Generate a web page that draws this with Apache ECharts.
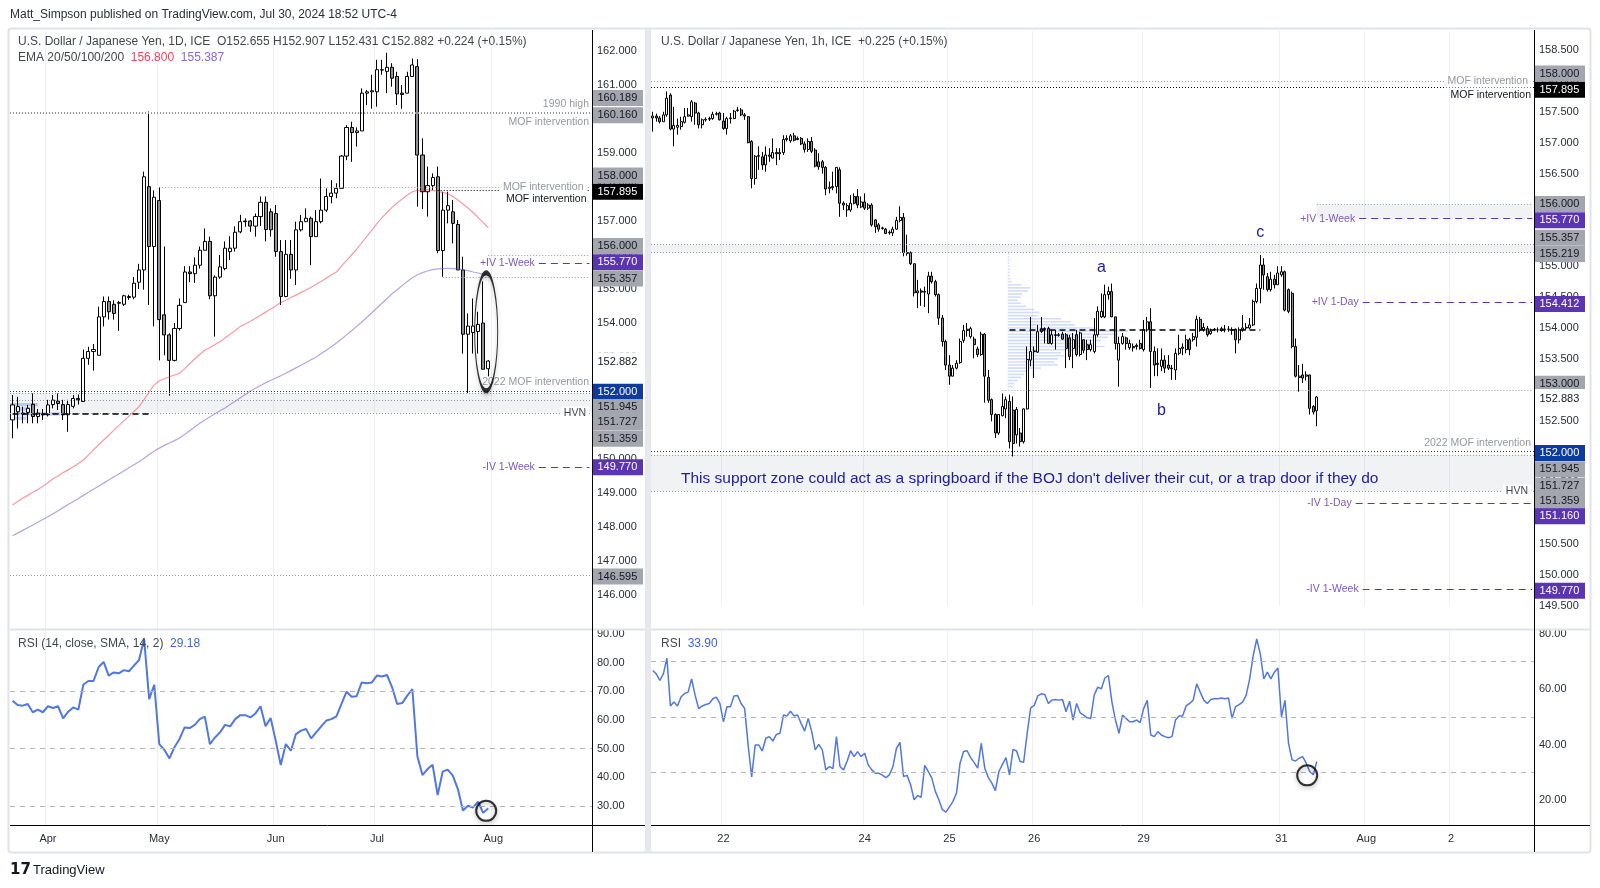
<!DOCTYPE html>
<html><head><meta charset="utf-8">
<script src="https://cdn.jsdelivr.net/npm/echarts@6/dist/echarts.min.js"></script>
<style>html,body{margin:0;padding:0;background:#fff}#c{width:1600px;height:888px}</style>
</head><body><div id="c"></div><script>
// ---------------- LEFT: USDJPY daily ----------------
const leftTickIdx = [7, 29, 52, 72, 95];
const leftTickLbl = ['Apr', 'May', 'Jun', 'Jul', 'Aug'];
const leftCatCount = 115;
const leftPriceTicks = [146,147,148,149,150,151,152,153,154,155,156,157,158,159,160,161,162];
const leftRsiTicks = [30,40,50,60,70,80,90];

const dO = [151.15,151.39,151.35,151.37,151.61,151.25,151.33,151.30,151.60,151.70,
151.60,151.30,151.55,151.78,151.69,152.96,153.16,153.05,154.18,154.63,
154.55,154.58,154.55,154.75,154.76,155.20,155.56,158.01,156.25,157.60,
154.24,153.65,152.90,153.84,154.60,155.50,155.45,155.70,156.14,156.40,
154.80,155.35,155.60,156.10,156.20,156.68,156.98,157.00,156.85,157.13,
157.55,157.27,157.22,156.10,154.78,156.02,155.56,156.74,156.98,157.08,
156.54,156.98,157.32,157.72,157.82,157.96,158.91,159.75,159.60,159.65,
160.76,160.80,160.80,161.44,161.40,161.52,161.25,160.76,160.76,161.25,
161.54,158.94,157.86,158.04,158.30,156.13,157.32,157.27,156.90,155.56,
153.67,153.72,153.75,154.00,152.655];
const dC = [151.59,151.54,151.32,151.49,151.25,151.35,151.30,151.59,151.73,151.63,
151.30,151.60,151.78,151.74,152.96,153.16,153.22,154.18,154.63,154.33,
154.28,154.60,154.80,154.78,155.17,155.56,158.30,156.25,157.70,154.10,
153.65,152.90,153.84,154.52,155.50,155.45,155.70,156.14,156.40,154.80,
155.35,155.65,156.20,156.20,156.67,156.98,157.00,156.85,157.13,157.55,
156.75,156.74,156.10,154.78,156.02,155.56,156.74,156.98,157.08,156.54,
156.98,157.32,157.72,157.82,157.96,158.91,159.75,159.60,159.65,160.76,
160.80,160.83,161.45,161.45,161.52,161.20,160.74,160.72,161.25,161.59,
158.94,157.86,158.04,158.28,156.13,157.32,157.45,156.93,155.56,153.67,
153.91,153.91,153.96,152.64,152.882];
const dL = [150.61,150.90,151.05,151.05,151.05,151.05,151.15,151.25,151.49,151.44,
151.15,150.80,151.49,151.60,151.69,152.77,152.60,153.05,153.90,154.10,
154.10,153.77,154.50,154.68,154.70,155.00,154.98,154.53,153.90,152.90,
153.05,151.86,152.87,153.78,154.60,155.20,155.18,155.60,156.14,154.70,
153.60,155.30,155.55,155.85,156.10,156.64,156.83,156.68,156.54,156.85,
156.40,156.54,155.95,154.53,154.76,155.30,155.12,156.69,156.98,155.70,
156.54,156.93,157.27,157.52,157.67,157.96,158.79,158.74,159.19,159.65,
160.41,160.30,160.36,161.30,160.76,160.95,160.41,160.30,160.76,161.25,
157.42,157.35,157.13,157.91,156.05,155.36,156.93,156.34,155.56,153.10,
151.94,153.10,153.10,152.64,152.431];
const dH = [151.88,151.83,151.54,151.59,151.93,151.47,151.47,151.74,151.88,151.93,
151.74,151.74,151.88,151.90,153.22,153.30,153.38,154.48,154.78,154.78,
154.67,154.65,154.83,154.83,155.35,155.74,158.45,160.22,157.90,158.00,
156.25,153.70,154.00,154.72,155.67,155.67,155.93,156.25,156.78,156.54,
155.40,156.00,156.40,156.55,156.84,157.18,157.08,157.03,157.22,157.72,
157.72,157.37,157.47,156.44,156.44,156.44,156.98,157.18,157.37,157.13,
157.32,158.25,157.96,158.20,158.11,158.94,159.82,159.92,159.75,160.90,
160.85,161.30,161.74,161.74,161.95,161.64,161.39,161.00,161.39,161.78,
161.76,159.43,158.60,158.40,158.60,157.86,157.86,157.62,157.03,155.95,
154.28,154.72,154.33,155.22,152.907];
const emaRed = [148.65,148.75,148.85,148.93,149.02,149.10,149.20,149.30,149.42,149.50,
149.60,149.68,149.77,149.87,149.97,150.12,150.27,150.42,150.56,150.70,
150.84,150.98,151.12,151.26,151.40,151.54,151.75,151.97,152.18,152.30,
152.36,152.42,152.47,152.52,152.65,152.80,152.94,153.08,153.20,153.28,
153.37,153.45,153.56,153.67,153.78,153.90,153.97,154.05,154.14,154.23,
154.32,154.41,154.50,154.60,154.67,154.75,154.82,154.90,154.97,155.05,
155.14,155.23,155.32,155.41,155.50,155.67,155.84,156.00,156.17,156.36,
156.55,156.73,156.92,157.10,157.25,157.40,157.53,157.65,157.76,157.86,
157.90,157.90,157.92,157.90,157.87,157.84,157.80,157.72,157.62,157.50,
157.38,157.25,157.10,156.95,156.80];
const emaPurple = [147.74,147.82,147.90,147.98,148.06,148.14,148.22,148.30,148.39,148.48,
148.57,148.66,148.75,148.84,148.93,149.02,149.11,149.20,149.29,149.38,
149.47,149.56,149.65,149.74,149.83,149.92,150.02,150.13,150.23,150.32,
150.40,150.47,150.54,150.62,150.72,150.83,150.94,151.05,151.15,151.24,
151.33,151.42,151.50,151.60,151.70,151.80,151.90,152.00,152.08,152.16,
152.24,152.31,152.38,152.45,152.52,152.60,152.68,152.76,152.84,152.92,
153.00,153.10,153.20,153.30,153.41,153.53,153.65,153.77,153.90,154.03,
154.16,154.30,154.44,154.58,154.72,154.86,154.98,155.10,155.22,155.33,
155.42,155.48,155.53,155.57,155.59,155.60,155.61,155.60,155.59,155.57,
155.54,155.50,155.47,155.43,155.39];
const leftRsi = [66.7,65.2,65.0,65.6,62.7,63.6,62.7,64.8,64.2,64.8,
60.6,62.9,64.4,63.6,72.4,73.6,73.6,78.4,80.3,75.5,
76.6,76.3,77.4,77.0,79.0,80.9,88.3,67.3,72.3,51.6,
49.6,46.6,50.5,53.4,57.4,57.2,58.3,60.3,61.2,51.6,
53.9,55.7,58.3,57.8,60.3,61.7,61.7,60.9,62.3,64.8,
57.8,60.7,52.8,44.3,51.6,49.3,55.1,56.3,56.9,53.6,
55.7,57.8,59.8,60.3,61.3,65.6,69.9,68.1,68.3,73.1,
72.8,73.1,75.5,75.2,75.7,71.4,65.6,65.9,68.5,70.8,
47.3,40.8,42.9,44.4,33.8,42.0,42.7,40.6,35.9,28.4,
30.1,29.5,31.5,27.6,29.18];
const leftVpPrice = [151.60, 151.47, 151.33, 151.20];
const leftVpLen = [5.5, 4.0, 10.0, 3.3];

// ---------------- RIGHT: USDJPY 1h ----------------
const rightTickIdx = [20, 60, 84, 108, 139, 178, 202, 226];
const rightTickLbl = ['22', '24', '25', '26', '29', '31', 'Aug', '2'];
const rightCatCount = 250;
const rightPriceTicks = [149.5,150,150.5,151,151.5,152,152.5,153,153.5,154,154.5,155,155.5,156,156.5,157,157.5,158,158.5];
const rightRsiTicks = [20,40,60,80];

const rO = [157.40,157.43,157.40,157.34,157.45,157.77,157.22,157.25,157.26,157.33,
157.43,157.42,157.64,157.48,157.29,157.37,157.38,157.39,157.46,157.48,
157.35,157.23,157.39,157.39,157.52,157.53,157.45,157.42,157.02,156.42,
156.78,156.77,156.64,156.80,156.75,156.84,156.82,156.84,157.05,157.03,
157.11,157.05,157.07,156.98,156.89,157.02,156.88,156.69,156.69,156.60,
156.26,156.27,156.29,156.56,156.02,155.91,155.91,156.13,156.13,155.96,
156.04,155.94,155.99,155.75,155.67,155.62,155.60,155.55,155.54,155.60,
155.74,155.79,155.22,155.22,155.04,154.57,154.60,154.58,154.55,154.84,
154.75,154.54,154.16,153.78,153.40,153.22,153.35,153.44,153.80,153.96,
153.86,153.82,153.66,153.57,153.90,153.20,152.84,152.60,152.30,152.58,
152.69,152.81,152.67,152.27,152.30,152.16,152.69,153.48,153.62,153.61,
153.94,153.99,153.99,153.75,153.89,153.88,153.90,153.89,153.84,153.67,
153.89,153.57,153.81,153.73,153.65,153.62,153.89,154.18,154.18,154.54,
154.59,154.18,153.48,153.75,153.84,153.68,153.70,153.72,153.75,153.65,
153.97,154.10,153.62,153.43,153.38,153.48,153.40,153.35,153.32,153.59,
153.67,153.65,153.81,153.81,153.85,154.14,153.97,153.99,153.91,153.97,
153.97,153.96,153.98,153.98,153.97,153.98,153.81,153.97,154.00,154.00,
154.05,154.43,154.64,155.02,154.83,154.62,154.79,154.70,154.86,154.91,
154.62,154.56,153.70,153.20,153.24,153.22,153.24,152.73,152.66];
const rC = [157.43,157.40,157.34,157.45,157.72,157.22,157.28,157.28,157.34,157.42,
157.45,157.66,157.48,157.29,157.37,157.38,157.39,157.46,157.47,157.37,
157.23,157.39,157.40,157.51,157.53,157.45,157.43,157.00,156.42,156.78,
156.79,156.64,156.80,156.78,156.84,156.82,156.84,157.05,157.07,157.11,
157.04,157.07,156.98,156.89,157.02,156.86,156.62,156.61,156.60,156.25,
156.28,156.29,156.60,156.02,155.99,155.98,156.02,156.02,155.99,156.04,
155.94,155.99,155.67,155.64,155.60,155.61,155.53,155.54,155.60,155.74,
155.79,155.22,155.21,155.04,154.57,154.60,154.58,154.59,154.84,154.75,
154.54,154.16,153.78,153.40,153.22,153.35,153.43,153.78,153.96,153.98,
153.99,153.73,153.57,153.90,153.22,152.83,152.60,152.30,152.60,152.73,
152.84,152.16,152.13,152.68,152.16,152.69,153.49,153.62,153.63,153.94,
153.99,153.98,153.75,153.89,153.88,153.89,153.82,153.67,153.54,153.81,
153.57,153.92,153.64,153.65,153.73,153.89,154.27,154.27,154.54,154.59,
154.18,153.75,153.75,153.86,153.75,153.75,153.68,153.70,153.67,153.97,
154.10,153.62,153.40,153.41,153.48,153.35,153.35,153.34,153.59,153.67,
153.69,153.81,153.65,153.86,154.14,153.97,154.01,153.89,153.95,153.98,
153.97,153.99,153.98,153.98,153.97,153.81,153.97,154.00,154.01,154.05,
154.43,154.64,155.02,154.86,154.62,154.79,154.70,154.89,154.91,154.29,
154.27,153.70,153.22,153.22,153.19,153.24,152.70,152.64,152.883];
const rL = [157.18,157.34,157.31,157.34,157.42,157.20,156.94,157.13,157.21,157.31,
157.42,157.34,157.29,157.23,157.23,157.34,157.35,157.37,157.44,157.36,
157.21,157.13,157.31,157.38,157.50,157.43,157.37,156.99,156.26,156.32,
156.56,156.56,156.53,156.69,156.75,156.64,156.72,156.80,157.02,157.00,
157.02,157.04,156.96,156.84,156.85,156.83,156.60,156.56,156.50,156.15,
156.18,156.23,156.18,155.80,155.91,155.80,155.88,156.00,155.94,155.94,
155.91,155.91,155.64,155.54,155.56,155.59,155.52,155.51,155.49,155.59,
155.71,155.16,155.17,155.02,154.51,154.32,154.36,154.34,154.24,154.72,
154.51,154.05,153.70,153.32,153.08,153.22,153.33,153.42,153.76,153.86,
153.83,153.51,153.53,153.55,152.79,152.79,152.49,152.22,152.27,152.57,
152.54,152.05,151.92,152.13,152.08,152.13,152.68,153.38,153.19,153.60,
153.92,153.75,153.74,153.73,153.65,153.86,153.81,153.35,153.48,153.35,
153.54,153.54,153.59,153.48,153.62,153.59,153.86,154.16,154.16,154.46,
154.18,153.65,153.05,153.73,153.65,153.65,153.62,153.65,153.65,153.62,
153.94,153.03,153.22,153.22,153.30,153.27,153.32,153.16,153.16,153.56,
153.56,153.59,153.56,153.78,153.70,153.94,153.94,153.86,153.89,153.95,
153.93,153.94,153.93,153.94,153.89,153.59,153.75,153.94,153.96,153.98,
154.03,154.40,154.40,154.62,154.59,154.59,154.64,154.70,154.83,154.27,
154.24,153.67,153.20,152.97,153.11,153.15,152.60,152.60,152.41];
const rH = [157.50,157.47,157.43,157.50,157.83,157.80,157.58,157.39,157.42,157.56,
157.56,157.69,157.66,157.50,157.39,157.41,157.42,157.50,157.50,157.50,
157.48,157.42,157.48,157.53,157.58,157.56,157.48,157.43,157.04,156.80,
156.94,156.85,156.94,156.91,157.07,156.91,156.91,157.12,157.12,157.14,
157.16,157.10,157.09,157.02,157.07,157.09,156.91,156.83,156.72,156.62,
156.37,156.53,156.60,156.60,156.05,156.02,156.15,156.18,156.25,156.13,
156.18,156.02,156.02,155.76,155.70,155.64,155.62,155.58,155.64,155.80,
155.97,155.86,155.51,155.24,155.04,154.78,154.64,154.67,154.91,154.91,
154.78,154.56,154.21,153.81,153.56,153.40,153.48,153.83,154.05,154.08,
154.02,153.86,153.70,153.94,153.92,153.32,152.86,152.62,152.60,152.94,
152.89,152.92,152.89,152.72,152.38,152.70,153.70,154.18,153.70,154.05,
154.18,154.01,154.02,153.97,153.97,153.92,153.94,153.92,153.89,153.92,
153.97,153.94,153.81,153.81,153.81,154.16,154.35,154.56,154.70,154.67,
154.72,154.18,153.86,153.92,153.86,153.81,153.75,153.75,153.81,154.13,
154.18,154.32,153.70,153.67,153.67,153.56,153.56,153.40,153.67,153.89,
153.75,153.89,153.84,153.92,154.20,154.18,154.08,154.03,153.99,154.00,
154.01,154.02,154.05,154.03,154.01,153.99,154.01,154.21,154.08,154.16,
154.46,154.72,155.18,155.13,154.89,154.91,154.86,155.00,155.00,154.93,
154.64,154.59,153.83,153.40,153.42,153.30,153.24,152.75,152.90];
const rightRsi = [66.8,65.6,63.2,65.6,71.3,54.0,55.4,54.0,57.2,58.5,
59.0,63.8,57.8,53.0,54.0,54.5,54.9,56.6,57.2,54.9,
48.3,53.7,53.7,57.6,57.8,54.9,53.1,39.9,28.3,39.9,
39.9,37.7,42.3,42.9,41.3,43.7,44.1,50.7,50.4,52.1,
50.4,50.7,47.7,44.9,49.5,44.7,38.1,40.1,38.1,30.9,
32.1,31.3,42.9,32.1,30.9,33.9,37.8,35.7,37.5,35.7,
36.9,32.7,30.9,29.7,29.7,29.0,28.1,29.1,32.1,38.7,
40.8,28.5,28.9,25.5,20.1,21.6,21.0,32.5,30.3,27.9,
23.1,20.1,16.5,15.6,17.5,19.5,22.5,33.3,37.5,37.8,
35.3,33.5,31.5,40.5,31.5,28.1,26.1,23.4,30.3,32.9,
35.3,29.1,38.3,37.7,33.9,33.6,44.1,53.3,54.2,57.6,
58.4,58.1,54.9,56.1,56.3,56.1,56.3,51.9,55.7,48.9,
54.9,51.5,50.7,49.7,49.5,58.0,60.8,60.2,64.1,65.0,
55.4,48.9,44.1,50.7,49.5,48.3,48.3,48.9,48.0,53.1,
56.0,43.5,42.9,44.7,43.5,42.9,42.5,42.9,48.9,50.4,
50.4,54.0,54.9,56.1,62.0,59.0,56.1,54.9,56.3,56.6,
56.6,56.9,56.6,56.9,49.5,53.7,54.5,55.4,57.8,63.8,
72.2,78.2,72.8,63.8,66.2,63.8,66.2,67.7,50.1,56.0,
40.5,34.5,34.1,35.1,35.7,33.3,30.3,29.1,33.9];
const rightVpStart = 101;
const rightVpPrice = [155.20,155.15,155.10,155.05,155.00,154.95,154.90,154.85,154.80,154.75,
154.70,154.65,154.60,154.55,154.50,154.45,154.40,154.35,154.30,154.25,
154.20,154.15,154.10,154.05,154.00,153.95,153.90,153.85,153.80,153.75,
153.70,153.65,153.60,153.55,153.50,153.45,153.40,153.35,153.30,153.25,
153.20,153.15,153.10,153.05];
const rightVpLen = [0.3,0.4,0.5,0.4,0.5,0.6,0.5,0.6,0.8,1.1,
3.8,6.4,5.7,4.2,3.6,2.8,3.8,5.2,7.5,9.0,
8.5,15.1,17.9,18.9,25.5,34.0,31.1,28.3,26.4,24.5,
27.4,18.9,15.1,16.0,14.2,13.2,14.2,9.4,5.7,4.7,
3.8,2.8,1.9,1.4];

// axis boxes
const leftBoxVals  = [160.189,160.160,158.000,157.895,156.000,155.770,155.357,152.882,152.000,151.945,151.727,151.359,149.770,146.595];
const leftBoxKinds = ['gray','gray','gray','black','gray','purple','gray','cur','blue','gray','gray','gray','purple','gray'];
const leftBoxShift = [-14.6,1.7,-11.5,1.2,-9.1,-0.6,1.7,1.2,0.8,14.2,22.1,26,0.5,1.7];
const rightBoxVals  = [158.000,157.895,156.000,155.770,155.357,155.219,154.412,153.000,152.883,152.000,151.945,151.727,151.359,151.160,149.770];
const rightBoxKinds = ['gray','black','gray','purple','gray','gray','purple','gray','cur','blue','gray','gray','gray','purple','purple'];
const rightBoxShift = [-7.4,2.4,-0.4,1.7,-6.4,1.4,1.5,-6.1,2.0,1.4,14.4,17.3,9.8,12.8,1.5];

// ---------------- layout / style ----------------
const FONT = 'Liberation Sans, Arial, sans-serif';
const GRAY = '#9598a1', PURPLE = '#5e35b1', PURPLE_T = '#7e57c2', BLUE = '#1a3a9c';
const AX_TXT = '#2a2e39';
const L = {x: 10, w: 582}, R = {x: 651, w: 883};
const BOXC = {gray: ['#a3a6ae', '#131722'], black: ['#000000', '#ffffff'], purple: ['#5b34b4', '#ffffff'], blue: ['#0f3a9e', '#ffffff'], cur: ['#ffffff', '#131722']};

const leftCats = Array.from({length: leftCatCount}, (_, i) => String(i));
const rightCats = Array.from({length: rightCatCount}, (_, i) => String(i));

function xa(grid, cats, idx, lbl, show) {
  const set = new Set(idx);
  return {type: 'category', gridIndex: grid, data: cats, boundaryGap: true,
    axisLine: {show: false}, axisTick: {show: false},
    axisLabel: {show: show, interval: (i) => set.has(i), color: AX_TXT, fontSize: 11, margin: 8, fontFamily: FONT,
      formatter: (v, i) => { const k = idx.indexOf(i); return k >= 0 ? lbl[k] : ''; }},
    splitLine: {show: true, interval: (i) => set.has(i), lineStyle: {color: '#eef0f4', width: 1}}};
}
function ya(grid, min, max, ticks, dec) {
  return {type: 'value', gridIndex: grid, position: 'right', min: min, max: max, scale: true,
    axisLine: {show: false}, axisTick: {show: false}, splitLine: {show: false},
    axisLabel: {customValues: ticks, formatter: (v) => Number(v).toFixed(dec), color: AX_TXT, fontSize: 11, margin: 5, fontFamily: FONT}};
}
const dotted = (c) => ({color: c, type: [1, 2], width: 1});
const dashed = (c) => ({color: c, type: [7, 5], width: 1});
function full(p, ls, label) { const o = {yAxis: p, lineStyle: ls}; o.label = label || {show: false}; return o; }
function part(p, s, e, ls, label) { return [{coord: [s, p], lineStyle: ls, label: label || {show: false}}, {coord: [e, p]}]; }
const lblEnd = (t, pos, c, bg) => ({show: true, formatter: t, position: pos, color: c, fontSize: 10.5, fontFamily: FONT, distance: 3,
  backgroundColor: bg ? '#ffffff' : 'transparent', padding: bg ? [1, 3] : 0});
const lblStart = (t) => ({show: true, formatter: t, position: 'start', color: PURPLE_T, fontSize: 10.5, fontFamily: FONT, distance: 4});

const LE = leftCatCount - 1, RE = rightCatCount - 1;
const leftLines = [
  full(160.189, dotted(GRAY), lblEnd('1990 high', 'insideEndTop', GRAY)),
  full(160.160, dotted(GRAY), lblEnd('MOF intervention', 'insideEndBottom', GRAY)),
  part(158.0, 29, LE, dotted(GRAY), lblEnd('MOF intervention', 'insideEnd', GRAY, true)),
  part(157.895, 84, LE, dotted('#000'), lblEnd('MOF intervention', 'insideEndBottom', '#131722')),
  part(156.0, 94, LE, dotted(GRAY)),
  part(155.77, 104, LE, dashed(PURPLE), lblStart('+IV 1-Week')),
  part(155.357, 85, LE, dotted(GRAY)),
  full(152.0, dotted(BLUE), lblEnd('2022 MOF intervention', 'insideEndTop', GRAY)),
  full(151.945, dotted(GRAY)),
  full(151.727, dotted(GRAY)),
  full(151.359, dotted(GRAY), lblEnd('HVN', 'insideEnd', '#434651', true)),
  part(151.32, 0, 27, {color: '#000', type: [6, 4], width: 1.5}),
  part(149.77, 104, LE, dashed(PURPLE), lblStart('-IV 1-Week')),
  full(146.595, dotted(GRAY))
];
const rightLines = [
  full(158.0, dotted(GRAY), lblEnd('MOF intervention', 'insideEnd', GRAY, true)),
  full(157.895, dotted('#000'), lblEnd('MOF intervention', 'insideEndBottom', '#131722')),
  part(156.0, 188, RE, dotted(GRAY)),
  part(155.77, 200, RE, dashed(PURPLE), lblStart('+IV 1-Week')),
  full(155.357, dotted(GRAY)),
  full(155.219, dotted(GRAY)),
  part(154.412, 201, RE, dashed(PURPLE), lblStart('+IV 1-Day')),
  part(153.97, 101, 172, {color: '#000', type: [6, 4], width: 1.5}),
  part(153.0, 99, RE, dotted(GRAY)),
  full(152.0, dotted(BLUE), lblEnd('2022 MOF intervention', 'insideEndTop', GRAY)),
  full(151.945, dotted(GRAY)),
  full(151.359, dotted(GRAY), lblEnd('HVN', 'insideEnd', '#434651', true)),
  part(151.16, 199, RE, dashed(PURPLE), lblStart('-IV 1-Day')),
  part(149.77, 201, RE, dashed(PURPLE), lblStart('-IV 1-Week'))
];
const rsiDash = {symbol: ['none', 'none'], silent: true, animation: false, label: {show: false},
  lineStyle: {color: '#b2b5be', type: [5, 5], width: 1}, data: [{yAxis: 70}, {yAxis: 50}, {yAxis: 30}]};
const candleStyle = {color: '#ffffff', color0: '#8f9097', borderColor: '#000000', borderColor0: '#000000', borderWidth: 1};
const BAND = 'rgba(120,123,134,0.10)';

function vpRender(startIdx, color, h) {
  return function (params, api) {
    const p = api.value(0), len = api.value(1);
    const bw = api.size([1, 0])[0];
    const a = api.coord([startIdx, p]);
    return {type: 'rect', shape: {x: a[0] - bw / 2, y: a[1] - h / 2, width: len * bw, height: h}, style: {fill: color}};
  };
}

const annText = 'This support zone could act as a springboard if the BOJ don\'t deliver their cut, or a trap door if they do';
const option = {
  animation: false,
  textStyle: {fontFamily: FONT},
  grid: [
    {left: L.x, top: 31, width: L.w, height: 598},
    {left: L.x, top: 630, width: L.w, height: 195},
    {left: R.x, top: 31, width: R.w, height: 575},
    {left: R.x, top: 630, width: R.w, height: 195}
  ],
  xAxis: [
    xa(0, leftCats, leftTickIdx, leftTickLbl, false),
    xa(1, leftCats, leftTickIdx, leftTickLbl, true),
    xa(2, rightCats, rightTickIdx, rightTickLbl, false),
    xa(3, rightCats, rightTickIdx, rightTickLbl, true)
  ],
  yAxis: [
    ya(0, 145, 162.588, leftPriceTicks, 3),
    ya(1, 23.37, 91.4, leftRsiTicks, 2),
    ya(2, 149.5, 158.8075, rightPriceTicks, 3),
    ya(3, 10.96, 81.45, rightRsiTicks, 2)
  ],
  series: [
    {type: 'custom', xAxisIndex: 0, yAxisIndex: 0, silent: true, z: 1,
      data: leftVpPrice.map((p, i) => [p, leftVpLen[i]]), renderItem: vpRender(0, 'rgba(66,110,240,0.32)', 3.2)},
    {type: 'candlestick', name: 'daily', xAxisIndex: 0, yAxisIndex: 0, barWidth: 3.6, itemStyle: candleStyle,
      data: dO.map((o, i) => [o, dC[i], dL[i], dH[i]]),
      markLine: {symbol: ['none', 'none'], silent: true, animation: false, data: leftLines},
      markArea: {silent: true, itemStyle: {color: BAND}, data: [[{yAxis: 151.945}, {yAxis: 151.359}]]}},
    {type: 'line', xAxisIndex: 0, yAxisIndex: 0, data: emaRed, showSymbol: false, silent: true,
      lineStyle: {color: 'rgba(242,54,69,0.5)', width: 1.2}},
    {type: 'line', xAxisIndex: 0, yAxisIndex: 0, data: emaPurple, showSymbol: false, silent: true,
      lineStyle: {color: 'rgba(126,87,194,0.55)', width: 1.2}},
    {type: 'scatter', xAxisIndex: 0, yAxisIndex: 0, silent: true, z: 5, data: [[93, 153.74]],
      symbol: 'circle', symbolSize: [23, 118], symbolOffset: [3, 0],
      itemStyle: {color: 'rgba(0,0,0,0)', borderColor: '#000', borderWidth: 2.2, shadowBlur: 4, shadowColor: 'rgba(0,0,0,0.35)', shadowOffsetY: 2}},
    {type: 'line', xAxisIndex: 1, yAxisIndex: 1, data: leftRsi, showSymbol: false, silent: true, clip: false,
      lineStyle: {color: '#5178e2', width: 2}, markLine: rsiDash},
    {type: 'scatter', xAxisIndex: 1, yAxisIndex: 1, silent: true, z: 5, data: [[93, 28.3]],
      symbol: 'circle', symbolSize: 20, symbolOffset: [3, 0],
      itemStyle: {color: 'rgba(0,0,0,0)', borderColor: '#000', borderWidth: 2, shadowBlur: 4, shadowColor: 'rgba(0,0,0,0.35)', shadowOffsetY: 2}},

    {type: 'custom', xAxisIndex: 2, yAxisIndex: 2, silent: true, z: 1,
      data: rightVpPrice.map((p, i) => [p, rightVpLen[i]]), renderItem: vpRender(rightVpStart, 'rgba(80,120,240,0.26)', 1.6)},
    {type: 'candlestick', name: 'hourly', xAxisIndex: 2, yAxisIndex: 2, barWidth: 2.5, itemStyle: candleStyle,
      data: rO.map((o, i) => [o, rC[i], rL[i], rH[i]]),
      markLine: {symbol: ['none', 'none'], silent: true, animation: false, data: rightLines},
      markArea: {silent: true, itemStyle: {color: BAND}, data: [
        [{yAxis: 155.357}, {yAxis: 155.219}],
        [{yAxis: 151.945}, {yAxis: 151.359}],
        [{coord: [188, 156.0]}, {coord: [RE, 155.77]}]
      ]},
      markPoint: {silent: true, symbol: 'circle', symbolSize: 0, animation: false,
        label: {show: true, color: '#1c1ca0', fontSize: 16, fontFamily: FONT, position: 'inside'},
        data: [
          {coord: [127, 154.98], label: {formatter: 'a'}},
          {coord: [144, 152.66], label: {formatter: 'b'}},
          {coord: [172, 155.54], label: {formatter: 'c'}},
          {coord: [8, 151.56], label: {formatter: annText, position: 'right', distance: 0, fontSize: 15.5}}
        ]}},
    {type: 'line', xAxisIndex: 3, yAxisIndex: 3, data: rightRsi, showSymbol: false, silent: true, clip: false,
      lineStyle: {color: '#5178e2', width: 1.5}, markLine: rsiDash},
    {type: 'scatter', xAxisIndex: 3, yAxisIndex: 3, silent: true, z: 5, data: [[185, 28.9]],
      symbol: 'circle', symbolSize: 20, symbolOffset: [1, 0],
      itemStyle: {color: 'rgba(0,0,0,0)', borderColor: '#000', borderWidth: 2, shadowBlur: 4, shadowColor: 'rgba(0,0,0,0.35)', shadowOffsetY: 2}}
  ]
};

const chart = echarts.init(document.getElementById('c'), null, {renderer: 'canvas'});
chart.setOption(option);

// frame + texts
const LX = L.x + L.w + 0.5, RX = R.x + R.w + 0.5;
const g = [];
const line = (x1, y1, x2, y2, c, w) => g.push({type: 'line', z: 10, silent: true, shape: {x1, y1, x2, y2}, style: {stroke: c, lineWidth: w || 1}});
const rect = (x, y, w, h, c, z) => g.push({type: 'rect', z: z || 10, silent: true, shape: {x, y, width: w, height: h}, style: {fill: c}});
const text = (x, y, t, size, c, extra) => g.push(Object.assign({type: 'text', z: 60, silent: true, x, y,
  style: Object.assign({text: t, fill: c, fontSize: size, fontFamily: FONT, verticalAlign: 'middle', align: 'left'}, extra && extra.style || {})}, extra && extra.el || {}));

g.push({type: 'rect', z: 10, silent: true, shape: {x: 8.5, y: 28.5, width: 1582, height: 824, r: 3}, style: {fill: 'none', stroke: '#e0e3eb', lineWidth: 2}});
rect(645, 29, 6, 823, '#e6e8ee');
rect(10, 628.5, 635, 2, '#e0e3eb');
rect(651, 628.5, 939, 2, '#e0e3eb');
line(LX, 30, LX, 852, '#000', 1);
line(RX, 30, RX, 852, '#000', 1);
line(10, 825.5, 645, 825.5, '#000', 1);
line(651, 825.5, 1590, 825.5, '#000', 1);

text(10, 15, 'Matt_Simpson published on TradingView.com, Jul 30, 2024 18:52 UTC-4', 12, '#2a2e39');
text(18, 42, 'U.S. Dollar / Japanese Yen, 1D, ICE  O152.655 H152.907 L152.431 C152.882 +0.224 (+0.15%)', 12, '#434651');
g.push({type: 'text', z: 60, silent: true, x: 18, y: 58, style: {text: '{g|EMA 20/50/100/200}  {r|156.800}  {p|155.387}', verticalAlign: 'middle',
  rich: {g: {fill: '#434651', fontSize: 12, fontFamily: FONT}, r: {fill: '#f0435a', fontSize: 12, fontFamily: FONT}, p: {fill: '#8867d8', fontSize: 12, fontFamily: FONT}}}});
text(661, 42, 'U.S. Dollar / Japanese Yen, 1h, ICE  +0.225 (+0.15%)', 12, '#434651');
g.push({type: 'text', z: 60, silent: true, x: 18, y: 644, style: {text: '{g|RSI (14, close, SMA, 14, 2)}  {b|29.18}', verticalAlign: 'middle',
  rich: {g: {fill: '#434651', fontSize: 12, fontFamily: FONT}, b: {fill: '#3d63e6', fontSize: 12, fontFamily: FONT}}}});
g.push({type: 'text', z: 60, silent: true, x: 661, y: 644, style: {text: '{g|RSI}  {b|33.90}', verticalAlign: 'middle',
  rich: {g: {fill: '#434651', fontSize: 12, fontFamily: FONT}, b: {fill: '#3d63e6', fontSize: 12, fontFamily: FONT}}}});
text(10, 870, '17', 15, '#131722', {style: {fontWeight: 900, fontFamily: 'DejaVu Sans, sans-serif'}});
text(33, 870, 'TradingView', 13, '#131722');

// axis value boxes, placed through the axis scale
function boxes(yAxisIndex, axisX, vals, kinds, shifts) {
  vals.forEach((v, i) => {
    const y = chart.convertToPixel({yAxisIndex: yAxisIndex}, v) + shifts[i];
    const c = BOXC[kinds[i]];
    const h = kinds[i] === 'cur' ? 20 : 16;
    g.push({type: 'rect', z: 50, silent: true, shape: {x: axisX + 0.5, y: y - h / 2, width: 50, height: h}, style: {fill: c[0]}});
    g.push({type: 'text', z: 51, silent: true, x: axisX + 5, y: y, style: {text: v.toFixed(3), fill: c[1], fontSize: 11, fontFamily: FONT, verticalAlign: 'middle', align: 'left'}});
  });
}
boxes(0, LX, leftBoxVals, leftBoxKinds, leftBoxShift);
boxes(2, RX, rightBoxVals, rightBoxKinds, rightBoxShift);
chart.setOption({graphic: g});
</script></body></html>
